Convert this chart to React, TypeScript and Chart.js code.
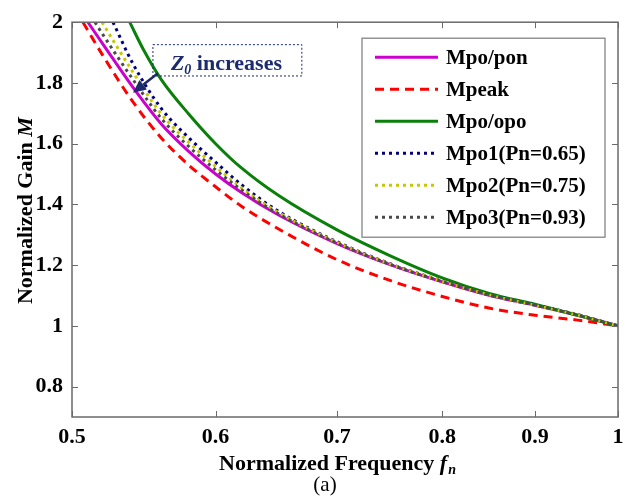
import { useEffect, useRef } from 'react';
import { Chart, registerables } from 'chart.js';

Chart.register(...registerables);

const SERIF = '"Liberation Serif", "Times New Roman", serif';

// Axis ticks
const xTicks = [0.5, 0.6, 0.7, 0.8, 0.9, 1];
const yTicks = [0.8, 1, 1.2, 1.4, 1.6, 1.8, 2];

// Series labels
const seriesLabels = ['Mpo/pon', 'Mpeak', 'Mpo/opo', 'Mpo1(Pn=0.65)', 'Mpo2(Pn=0.75)', 'Mpo3(Pn=0.93)'];

// Mpo/pon (magenta solid)
const fPon = [0.5102, 0.52, 0.54, 0.56, 0.58, 0.60, 0.62, 0.65, 0.70, 0.75, 0.80, 0.85, 0.90, 0.95, 1.0];
const mPon = [2.0, 1.928, 1.787, 1.665, 1.574, 1.50, 1.439, 1.365, 1.271, 1.20, 1.145, 1.10, 1.068, 1.035, 1.0];

// Mpeak (red dashed)
const fPeak = [0.507, 0.52, 0.54, 0.56, 0.58, 0.60, 0.62, 0.65, 0.70, 0.75, 0.80, 0.85, 0.90, 0.95, 1.0];
const mPeak = [2.0, 1.89, 1.739, 1.619, 1.529, 1.458, 1.394, 1.319, 1.218, 1.148, 1.097, 1.058, 1.035, 1.019, 1.0];

// Mpo/opo (green solid)
const fOpo = [0.538, 0.548, 0.56, 0.58, 0.60, 0.62, 0.65, 0.70, 0.75, 0.80, 0.85, 0.90, 0.95, 1.0];
const mOpo = [2.0, 1.905, 1.811, 1.697, 1.60, 1.52, 1.429, 1.316, 1.229, 1.158, 1.106, 1.071, 1.035, 1.0];

// Mpo1 (navy dotted)
const fPo1 = [0.5267, 0.54, 0.56, 0.58, 0.60, 0.62, 0.65, 0.70, 0.75, 0.80, 0.85, 0.90, 0.95, 1.0];
const mPo1 = [2.0, 1.865, 1.716, 1.619, 1.539, 1.465, 1.377, 1.277, 1.203, 1.148, 1.103, 1.069, 1.037, 1.0];

// Mpo2 (yellow dotted)
const fPo2 = [0.5194, 0.54, 0.56, 0.58, 0.60, 0.62, 0.65, 0.70, 0.75, 0.80, 0.85, 0.90, 0.95, 1.0];
const mPo2 = [2.0, 1.837, 1.698, 1.604, 1.525, 1.455, 1.373, 1.275, 1.202, 1.147, 1.102, 1.068, 1.036, 1.0];

// Mpo3 (gray dotted)
const fPo3 = [0.5148, 0.52, 0.54, 0.56, 0.58, 0.60, 0.62, 0.65, 0.70, 0.75, 0.80, 0.85, 0.90, 0.95, 1.0];
const mPo3 = [2.0, 1.959, 1.813, 1.683, 1.59, 1.514, 1.448, 1.369, 1.273, 1.201, 1.146, 1.101, 1.068, 1.036, 1.0];

const seriesX = [fPon, fPeak, fOpo, fPo1, fPo2, fPo3];
const seriesY = [mPon, mPeak, mOpo, mPo1, mPo2, mPo3];
const seriesColors = ['#cc00cc', '#ff0000', '#0a800a', '#000080', '#c8c800', '#4a4a4a'];
const seriesDash: number[][] = [[], [9, 6], [], [3, 4], [3, 4], [3, 4]];

// Annotation anchor values (data coordinates)
const noteBox = { f1: 0.5541, f2: 0.6694, m1: 1.926, m2: 1.823 };
const noteArrow = { f1: 0.5576, m1: 1.832, f2: 0.5402, m2: 1.768 };

const decor = {
  id: 'decor',
  afterDraw(chart: any) {
    const { ctx, chartArea: ca } = chart;
    const xs = chart.scales.x;
    const ys = chart.scales.y;
    const line = (a: number, b: number, c: number, d: number) => {
      ctx.beginPath();
      ctx.moveTo(a, b);
      ctx.lineTo(c, d);
      ctx.stroke();
    };
    ctx.save();
    // frame
    ctx.setLineDash([]);
    ctx.strokeStyle = '#6a6a6a';
    ctx.lineWidth = 1.5;
    ctx.strokeRect(ca.left, ca.top, ca.right - ca.left, ca.bottom - ca.top);
    // inward ticks
    ctx.lineWidth = 1;
    xTicks.forEach((v) => {
      const px = Math.round(xs.getPixelForValue(v)) + 0.5;
      line(px, ca.bottom, px, ca.bottom - 6);
      line(px, ca.top, px, ca.top + 6);
    });
    yTicks.forEach((v) => {
      const py = Math.round(ys.getPixelForValue(v)) + 0.5;
      line(ca.left, py, ca.left + 6, py);
      line(ca.right, py, ca.right - 6, py);
    });

    // legend
    const lw = 243;
    const lh = 199;
    const lx = ca.right - 13 - lw;
    const ly = ca.top + 16;
    ctx.fillStyle = '#ffffff';
    ctx.fillRect(lx, ly, lw, lh);
    ctx.strokeStyle = '#7a7a7a';
    ctx.lineWidth = 1.2;
    ctx.strokeRect(lx, ly, lw, lh);
    chart.data.datasets.forEach((ds: any, i: number) => {
      const cy = ly + 19 + i * 32;
      ctx.strokeStyle = ds.borderColor;
      ctx.lineWidth = ds.borderWidth;
      ctx.setLineDash(ds.borderDash || []);
      line(lx + 13, cy, lx + 76, cy);
      ctx.setLineDash([]);
      ctx.fillStyle = '#000';
      ctx.font = `bold 21px ${SERIF}`;
      ctx.textBaseline = 'middle';
      ctx.textAlign = 'left';
      ctx.fillText(ds.label, lx + 84, cy + 1);
    });

    // annotation box
    const navy = '#1c2b6e';
    const bx1 = xs.getPixelForValue(noteBox.f1);
    const bx2 = xs.getPixelForValue(noteBox.f2);
    const by1 = ys.getPixelForValue(noteBox.m1);
    const by2 = ys.getPixelForValue(noteBox.m2);
    ctx.strokeStyle = navy;
    ctx.lineWidth = 1;
    ctx.setLineDash([2, 2]);
    ctx.strokeRect(bx1, by1, bx2 - bx1, by2 - by1);
    ctx.setLineDash([]);
    ctx.fillStyle = navy;
    ctx.textBaseline = 'alphabetic';
    let tx = bx1 + 18;
    const tb = by1 + 25;
    ctx.font = `italic bold 22px ${SERIF}`;
    ctx.fillText('Z', tx, tb);
    tx += ctx.measureText('Z').width;
    ctx.font = `italic bold 14px ${SERIF}`;
    ctx.fillText('0', tx, tb + 4);
    tx += ctx.measureText('0').width;
    ctx.font = `bold 22px ${SERIF}`;
    ctx.fillText(' increases', tx, tb);

    // arrow
    const ax1 = xs.getPixelForValue(noteArrow.f1);
    const ay1 = ys.getPixelForValue(noteArrow.m1);
    const ax2 = xs.getPixelForValue(noteArrow.f2);
    const ay2 = ys.getPixelForValue(noteArrow.m2);
    const ang = Math.atan2(ay2 - ay1, ax2 - ax1);
    const hl = 13;
    const hw = 6;
    const bxp = ax2 - hl * Math.cos(ang);
    const byp = ay2 - hl * Math.sin(ang);
    ctx.strokeStyle = navy;
    ctx.lineWidth = 2.5;
    line(ax1, ay1, bxp, byp);
    ctx.beginPath();
    ctx.moveTo(ax2, ay2);
    ctx.lineTo(bxp + hw * Math.sin(ang), byp - hw * Math.cos(ang));
    ctx.lineTo(bxp - hw * Math.sin(ang), byp + hw * Math.cos(ang));
    ctx.closePath();
    ctx.fill();

    // x title
    ctx.fillStyle = '#000';
    const xa = 'Normalized Frequency ';
    ctx.font = `bold 22px ${SERIF}`;
    const w1 = ctx.measureText(xa).width;
    ctx.font = `italic bold 22px ${SERIF}`;
    const w2 = ctx.measureText('f').width;
    ctx.font = `italic bold 14px ${SERIF}`;
    const w3 = ctx.measureText('n').width;
    const xc = (ca.left + ca.right) / 2 - 8;
    let sx = xc - (w1 + w2 + w3) / 2;
    const xb = ca.bottom + 53;
    ctx.font = `bold 22px ${SERIF}`;
    ctx.fillText(xa, sx, xb);
    sx += w1;
    ctx.font = `italic bold 22px ${SERIF}`;
    ctx.fillText('f', sx, xb);
    sx += w2 + 1;
    ctx.font = `italic bold 14px ${SERIF}`;
    ctx.fillText('n', sx, xb + 4);

    // y title
    ctx.save();
    const yc = (ca.top + ca.bottom) / 2 - 9;
    ctx.translate(32, yc);
    ctx.rotate(-Math.PI / 2);
    const ya = 'Normalized Gain ';
    ctx.font = `bold 22px ${SERIF}`;
    const v1 = ctx.measureText(ya).width;
    ctx.font = `italic bold 22px ${SERIF}`;
    const v2 = ctx.measureText('M').width;
    let sy = -(v1 + v2) / 2;
    ctx.font = `bold 22px ${SERIF}`;
    ctx.fillText(ya, sy, 0);
    sy += v1;
    ctx.font = `italic bold 22px ${SERIF}`;
    ctx.fillText('M', sy, 0);
    ctx.restore();

    // caption
    ctx.font = `21px ${SERIF}`;
    ctx.textAlign = 'center';
    ctx.fillText('(a)', xc - 12, ca.bottom + 74);
    ctx.restore();
  },
};

export default function App() {
  const ref = useRef<HTMLCanvasElement>(null);
  useEffect(() => {
    if (!ref.current) return;
    const datasets = seriesLabels.map((label, i) => ({
      label,
      data: seriesX[i].map((f, j) => ({ x: f, y: seriesY[i][j] })),
      borderColor: seriesColors[i],
      backgroundColor: seriesColors[i],
      borderWidth: 3,
      borderDash: seriesDash[i],
      pointRadius: 0,
      fill: false,
      cubicInterpolationMode: 'monotone' as const,
      order: 6 - i,
    }));
    const tickFont = { family: SERIF, size: 22, weight: 'bold' as const };
    const chart = new Chart(ref.current, {
      type: 'line',
      data: { datasets },
      options: {
        responsive: false,
        animation: false,
        devicePixelRatio: 1,
        layout: { padding: { top: 14, right: 18, left: 0, bottom: 0 } },
        plugins: { legend: { display: false }, tooltip: { enabled: false } },
        scales: {
          x: {
            type: 'logarithmic',
            min: 0.5,
            max: 1,
            afterBuildTicks: (s: any) => {
              s.ticks = xTicks.map((v) => ({ value: v }));
            },
            afterFit: (s: any) => {
              s.height = 85;
            },
            grid: { display: false, drawTicks: false },
            border: { display: false },
            ticks: {
              font: tickFont,
              color: '#000',
              padding: 7,
              maxRotation: 0,
              autoSkip: false,
              callback: (v: any) => String(v),
            },
          },
          y: {
            type: 'linear',
            min: 0.7,
            max: 2,
            afterBuildTicks: (s: any) => {
              s.ticks = yTicks.map((v) => ({ value: v }));
            },
            afterFit: (s: any) => {
              s.width = 72;
            },
            grid: { display: false, drawTicks: false },
            border: { display: false },
            ticks: {
              font: tickFont,
              color: '#000',
              padding: 9,
              autoSkip: false,
              callback: (v: any) => String(Math.round(Number(v) * 10) / 10),
            },
          },
        },
      },
      plugins: [decor],
    });
    return () => chart.destroy();
  }, []);
  return (
    <div style={{ position: 'absolute', left: 0, top: 0, width: 636, height: 502, background: '#fff' }}>
      <canvas ref={ref} width={636} height={502} style={{ width: 636, height: 502 }} />
    </div>
  );
}
